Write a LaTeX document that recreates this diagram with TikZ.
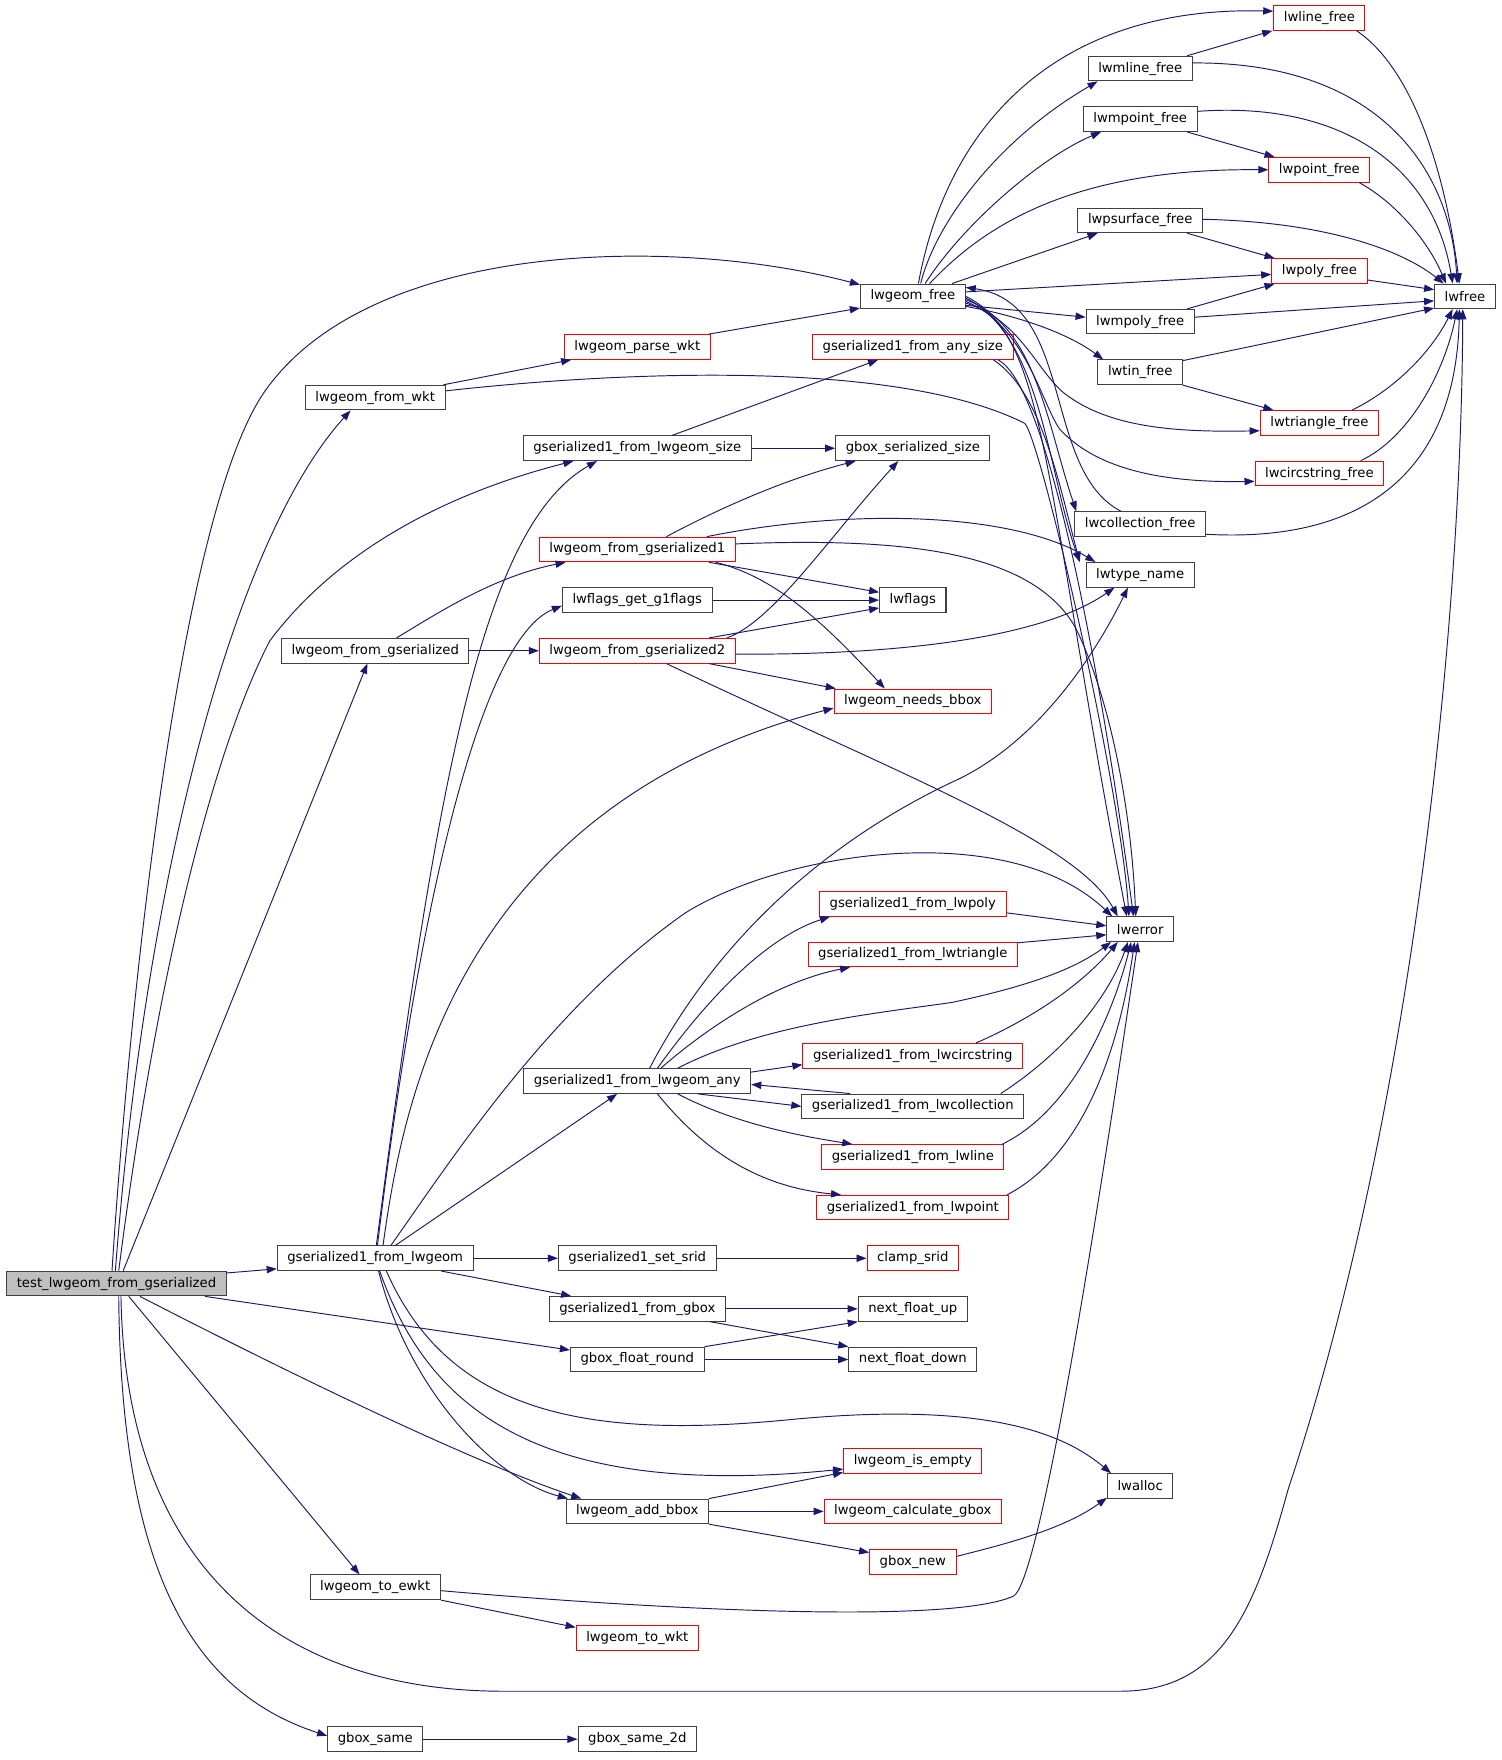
\documentclass[tikz,border=0pt]{standalone}
\usepackage{fontspec}
\setmainfont{DejaVu Sans}
\usetikzlibrary{arrows.meta}
\definecolor{edgeblue}{HTML}{191970}
\definecolor{boxgray}{HTML}{404040}
\definecolor{rootgray}{HTML}{BFBFBF}

\begin{document}
\begin{tikzpicture}[x=1pt, y=-1pt,
  fn/.style={draw=boxgray, line width=0.9pt, rectangle, inner xsep=9pt, inner ysep=0pt,
    minimum height=22pt, font=\fontsize{11.8}{14}\selectfont},
  fnred/.style={fn, draw=red},
  fnroot/.style={fn, fill=rootgray},
  call/.style={draw=edgeblue, line width=0.85pt, -{Triangle[length=9pt,width=6.5pt]}}]

\fill[white] (0,0) rectangle (1340.2,1571.4);

% callers on the left
\node[fnroot] (test) at (104,1146) {test\_lwgeom\_from\_gserialized};
\node[fn] (from_wkt) at (335,355) {lwgeom\_from\_wkt};
\node[fn] (from_gser) at (335,581) {lwgeom\_from\_gserialized};
\node[fn] (gs_lwgeom) at (335,1123.4) {gserialized1\_from\_lwgeom};
\node[fn] (to_ewkt) at (335,1417.2) {lwgeom\_to\_ewkt};
\node[fn] (gbsame) at (335,1552.8) {gbox\_same};

% second column
\node[fnred] (parsewkt) at (569,309.8) {lwgeom\_parse\_wkt};
\node[fn] (gs_size) at (569,400.2) {gserialized1\_from\_lwgeom\_size};
\node[fnred] (gser1) at (569,490.6) {lwgeom\_from\_gserialized1};
\node[fn] (g1flags) at (569,535.8) {lwflags\_get\_g1flags};
\node[fnred] (gser2) at (569,581) {lwgeom\_from\_gserialized2};
\node[fn] (gs_any) at (569,965.2) {gserialized1\_from\_lwgeom\_any};
\node[fn] (setsrid) at (569,1123.4) {gserialized1\_set\_srid};
\node[fn] (gs_gbox) at (569,1168.6) {gserialized1\_from\_gbox};
\node[fn] (gbround) at (569,1213.8) {gbox\_float\_round};
\node[fn] (addbbox) at (569,1349.4) {lwgeom\_add\_bbox};
\node[fnred] (towkt) at (569,1462.4) {lwgeom\_to\_wkt};
\node[fn] (gbsame2d) at (569,1552.8) {gbox\_same\_2d};

% third column
\node[fn] (geomfree) at (815,264.6) {lwgeom\_free};
\node[fnred] (anysize) at (815,309.8) {gserialized1\_from\_any\_size};
\node[fn] (gbsize) at (815,400.2) {gbox\_serialized\_size};
\node[fn] (lwflags) at (815,535.8) {lwflags};
\node[fnred] (needsbbox) at (815,626.2) {lwgeom\_needs\_bbox};
\node[fnred] (gs_poly) at (815,807) {gserialized1\_from\_lwpoly};
\node[fnred] (gs_tri) at (815,852.2) {gserialized1\_from\_lwtriangle};
\node[fnred] (gs_circ) at (815,942.6) {gserialized1\_from\_lwcircstring};
\node[fn] (gs_coll) at (815,987.8) {gserialized1\_from\_lwcollection};
\node[fnred] (gs_line) at (815,1033) {gserialized1\_from\_lwline};
\node[fnred] (gs_point) at (815,1078.2) {gserialized1\_from\_lwpoint};
\node[fnred] (clampsrid) at (815,1123.4) {clamp\_srid};
\node[fn] (nfup) at (815,1168.6) {next\_float\_up};
\node[fn] (nfdown) at (815,1213.8) {next\_float\_down};
\node[fnred] (isempty) at (815,1304.2) {lwgeom\_is\_empty};
\node[fnred] (calcgbox) at (815,1349.4) {lwgeom\_calculate\_gbox};
\node[fnred] (gboxnew) at (815,1394.6) {gbox\_new};

% fourth column
\node[fn] (mlinefree) at (1018,61.2) {lwmline\_free};
\node[fn] (mpointfree) at (1018,106.4) {lwmpoint\_free};
\node[fn] (psurffree) at (1018,196.8) {lwpsurface\_free};
\node[fn] (mpolyfree) at (1018,287.2) {lwmpoly\_free};
\node[fn] (tinfree) at (1018,332.4) {lwtin\_free};
\node[fn] (collfree) at (1018,468) {lwcollection\_free};
\node[fn] (typename) at (1018,513.2) {lwtype\_name};
\node[fn] (lwerror) at (1018,829.6) {lwerror};
\node[fn] (lwalloc) at (1018,1326.8) {lwalloc};

% fifth and sixth column
\node[fnred] (linefree) at (1178,16) {lwline\_free};
\node[fnred] (pointfree) at (1178,151.6) {lwpoint\_free};
\node[fnred] (polyfree) at (1178,242) {lwpoly\_free};
\node[fnred] (trifree) at (1178,377.6) {lwtriangle\_free};
\node[fnred] (circfree) at (1178,422.8) {lwcircstring\_free};
\node[fn] (lwfree) at (1308,264.6) {lwfree};

% calls from the test
\draw[call] ([yshift=-2pt]test.north east) -- ([yshift=2pt]gs_lwgeom.south west);
\draw[call] ([xshift=-1pt]test.north) .. controls (130,780) and (210,480) .. ([xshift=-22pt]from_wkt.south);
\draw[call] ([xshift=-4pt]test.north) .. controls (115,900) and (160,460) .. (236,350)
  .. controls (330,215) and (600,210) .. ([yshift=-1pt]geomfree.north west);
\draw[call] ([xshift=2pt]test.north) .. controls (145,830) and (200,650) .. (241,572)
  .. controls (310,480) and (420,435) .. ([xshift=-57pt]gs_size.south);
\draw[call] ([xshift=6pt]test.north) -- ([xshift=-7pt]from_gser.south);
\draw[call] ([xshift=11pt]test.south) -- ([xshift=-14pt]to_ewkt.north);
\draw[call] ([xshift=21pt]test.south) .. controls (250,1222) and (420,1305) .. ([xshift=-50pt]addbbox.north);
\draw[call] ([xshift=79pt]test.south) -- ([yshift=-3pt]gbround.north west);
\draw[call] ([xshift=2pt]test.south) .. controls (108,1400) and (170,1510) .. ([yshift=3pt]gbsame.west);
\draw[call] ([xshift=4pt]test.south) .. controls (112,1400) and (250,1510) .. (450,1510) -- (1000,1510)
  .. controls (1090,1510) and (1120,1440) .. (1150,1330)
  .. controls (1260,1000) and (1305,560) .. ([xshift=-2pt]lwfree.south);

% gserialized1_from_lwgeom
\draw[call] (gs_lwgeom.east) -- (setsrid.west);
\draw[call] ([xshift=59pt]gs_lwgeom.south) -- ([xshift=-59pt]gs_gbox.north);
\draw[call] ([xshift=18pt]gs_lwgeom.north) -- ([xshift=-18pt]gs_any.south);
\draw[call] ([xshift=1pt]gs_lwgeom.north) .. controls (390,700) and (430,470) .. ([xshift=-36pt]gs_size.south);
\draw[call] ([xshift=2pt]gs_lwgeom.north) .. controls (375,800) and (430,570) .. ([yshift=-5pt]g1flags.west);
\draw[call] ([xshift=7pt]gs_lwgeom.north) .. controls (360,980) and (410,720) .. ([yshift=-6pt]needsbbox.west);
\draw[call] ([xshift=14pt]gs_lwgeom.north) .. controls (400,1040) and (490,900) .. (612,815)
  .. controls (700,760) and (900,730) .. ([xshift=-25pt]lwerror.north);
\draw[call] ([xshift=4pt]gs_lwgeom.south) .. controls (380,1250) and (470,1340) .. ([yshift=4pt]isempty.south west);
\draw[call] ([xshift=10pt]gs_lwgeom.south) .. controls (400,1260) and (520,1285) .. (700,1268)
  .. controls (880,1250) and (950,1280) .. ([xshift=-26pt]lwalloc.north);
\draw[call] ([xshift=3pt]gs_lwgeom.south) .. controls (365,1240) and (440,1320) .. ([xshift=-62pt]addbbox.north);

% lwgeom_from_wkt and lwgeom_from_gserialized
\draw[call] ([xshift=-2pt]from_wkt.north east) -- ([xshift=-59pt]parsewkt.south);
\draw[call] ([yshift=6pt]from_wkt.east) .. controls (550,332) and (800,320) .. (915,378)
  .. controls (930,395) and (1000,700) .. ([xshift=-10pt]lwerror.north);
\draw[call] ([xshift=19pt]from_gser.north) .. controls (390,548) and (440,515) .. ([xshift=-64pt]gser1.south);
\draw[call] (from_gser.east) -- (gser2.west);
\draw[call] ([xshift=-2pt]parsewkt.north east) -- ([yshift=1pt]geomfree.south west);

% sizes
\draw[call] ([xshift=31pt]gs_size.north) -- ([xshift=-31pt]anysize.south);
\draw[call] (gs_size.east) -- (gbsize.west);
\draw[call] ([xshift=-18pt]anysize.south east) .. controls (930,350) and (945,430) .. ([xshift=-54pt]typename.north);
\draw[call] ([xshift=-14pt]anysize.south east) .. controls (940,345) and (990,650) .. ([xshift=-6pt]lwerror.north);

% lwgeom_from_gserialized1
\draw[call] ([xshift=26pt]gser1.north) .. controls (640,455) and (700,428) .. ([xshift=-51pt]gbsize.south);
\draw[call] ([xshift=62pt]gser1.north) .. controls (750,455) and (900,455) .. ([xshift=-40pt]typename.north);
\draw[call] ([yshift=5pt]gser1.east) .. controls (800,480) and (920,490) .. (960,560)
  .. controls (990,620) and (1010,720) .. ([xshift=-4pt]lwerror.north);
\draw[call] ([xshift=64pt]gser1.south) -- ([yshift=7pt]lwflags.west);
\draw[call] ([xshift=70pt]gser1.south) .. controls (690,515) and (730,550) .. ([xshift=-25pt]needsbbox.north);
\draw[call] (g1flags.east) -- (lwflags.west);

% lwgeom_from_gserialized2
\draw[call] ([xshift=80pt]gser2.north) .. controls (690,555) and (740,480) .. ([xshift=-13pt]gbsize.south);
\draw[call] ([xshift=64pt]gser2.north) -- ([yshift=-7pt]lwflags.west);
\draw[call] ([yshift=-3pt]gser2.east) .. controls (800,585) and (930,570) .. ([xshift=-23pt]typename.south);
\draw[call] ([xshift=64pt]gser2.south) -- ([xshift=2pt]needsbbox.north west);
\draw[call] ([xshift=26pt]gser2.south) .. controls (800,690) and (960,750) .. ([xshift=-20pt]lwerror.north);

% lwgeom_free
\draw[call] ([xshift=5pt]geomfree.north) .. controls (845,115) and (940,5) .. ([yshift=6pt]linefree.west);
\draw[call] ([xshift=7pt]geomfree.north) .. controls (835,200) and (890,125) .. ([xshift=-38pt]mlinefree.south);
\draw[call] ([xshift=11pt]geomfree.north) .. controls (860,200) and (930,140) .. ([xshift=-35pt]mpointfree.south);
\draw[call] ([xshift=15pt]geomfree.north) .. controls (880,200) and (960,150) .. (pointfree.west);
\draw[call] ([xshift=35pt]geomfree.north) -- ([xshift=-38pt]psurffree.south);
\draw[call] ([yshift=4pt]geomfree.east) -- ([yshift=-3pt]polyfree.west);
\draw[call] ([yshift=-8pt]geomfree.east) -- ([yshift=4pt]mpolyfree.west);
\draw[call] ([yshift=-9pt]geomfree.east) .. controls (900,280) and (950,295) .. ([xshift=-33pt]tinfree.north);
\draw[call] ([yshift=-6pt]geomfree.east) .. controls (910,285) and (925,330) .. (950,351)
  .. controls (990,382) and (1050,386) .. ([yshift=-7pt]trifree.west);
\draw[call] ([yshift=-4.5pt]geomfree.east) .. controls (915,290) and (930,360) .. (946,383)
  .. controls (980,420) and (1040,431) .. ([yshift=-7pt]circfree.west);
\draw[call] ([yshift=-3pt]geomfree.east) .. controls (925,290) and (935,380) .. ([xshift=-57pt]collfree.north);
\draw[call] ([yshift=-1.5pt]geomfree.east) .. controls (930,300) and (935,420) .. ([xshift=-54pt]typename.north);
\draw[call] (geomfree.east) .. controls (935,300) and (930,420) .. ([xshift=-12pt]lwerror.north);

% lwcollection_free
\draw[call] ([xshift=-17pt]collfree.north) .. controls (930,420) and (960,270) .. ([yshift=-3.5pt]geomfree.north east);
\draw[call] ([yshift=-9pt]collfree.east) .. controls (1220,485) and (1300,420) .. ([xshift=-5pt]lwfree.south);

% the other free functions
\draw[call] ([xshift=42pt]mlinefree.north) -- ([xshift=-42pt]linefree.south);
\draw[call] ([yshift=5pt]mlinefree.east) .. controls (1230,55) and (1295,150) .. ([xshift=-7pt]lwfree.north);
\draw[call] ([xshift=42pt]mpointfree.south) -- ([xshift=-40pt]pointfree.north);
\draw[call] ([yshift=7pt]mpointfree.east) .. controls (1200,90) and (1280,150) .. ([xshift=-11pt]lwfree.north);
\draw[call] ([xshift=-10pt]pointfree.south east) .. controls (1245,180) and (1275,215) .. ([xshift=-17pt]lwfree.north);
\draw[call] ([xshift=-8pt]linefree.south east) .. controls (1260,60) and (1290,150) .. ([xshift=-5pt]lwfree.north);
\draw[call] ([xshift=42pt]psurffree.south) -- ([xshift=-40pt]polyfree.north);
\draw[call] ([yshift=1pt]psurffree.east) .. controls (1180,198) and (1250,222) .. ([xshift=-19pt]lwfree.north);
\draw[call] ([yshift=-8pt]polyfree.east) -- ([yshift=6pt]lwfree.west);
\draw[call] ([xshift=42pt]mpolyfree.north) -- ([xshift=-40pt]polyfree.south);
\draw[call] ([yshift=4pt]mpolyfree.east) -- ([yshift=-4pt]lwfree.west);
\draw[call] ([yshift=-1pt]tinfree.north east) -- ([yshift=1pt]lwfree.south west);
\draw[call] ([xshift=38pt]tinfree.south) -- ([xshift=-41pt]trifree.north);
\draw[call] ([xshift=-24pt]trifree.north east) .. controls (1250,345) and (1280,310) .. ([xshift=-11pt]lwfree.south);
\draw[call] ([xshift=-21pt]circfree.north east) .. controls (1260,390) and (1290,330) .. ([xshift=-7pt]lwfree.south);

% gserialized1_from_lwgeom_any
\draw[call] ([xshift=11pt]gs_any.north) .. controls (650,820) and (760,740) .. (855,696)
  .. controls (930,660) and (980,580) .. ([xshift=-11pt]typename.south);
\draw[call] ([xshift=18pt]gs_any.north) .. controls (640,880) and (690,835) .. ([xshift=-74pt]gs_poly.south);
\draw[call] ([xshift=21pt]gs_any.north) .. controls (640,910) and (700,875) .. ([xshift=-56pt]gs_tri.south);
\draw[call] ([xshift=36pt]gs_any.north) .. controls (680,915) and (780,905) .. (850,895)
  .. controls (920,880) and (960,865) .. ([xshift=-26pt]lwerror.south);
\draw[call] ([yshift=8pt]gs_any.east) -- ([yshift=-8pt]gs_circ.west);
\draw[call] ([xshift=-56pt]gs_coll.north) -- ([yshift=-3pt]gs_any.east);
\draw[call] ([xshift=54pt]gs_any.south) -- (gs_coll.west);
\draw[call] ([xshift=36pt]gs_any.south) .. controls (650,1000) and (700,1012) .. ([xshift=-54pt]gs_line.north);
\draw[call] ([xshift=18pt]gs_any.south) .. controls (630,1030) and (680,1060) .. ([xshift=-64pt]gs_point.north);

% into lwerror
\draw[call] ([yshift=-8pt]gs_poly.east) -- ([yshift=3pt]lwerror.west);
\draw[call] ([yshift=-1pt]gs_tri.north east) -- ([yshift=-5pt]lwerror.west);
\draw[call] ([xshift=-42pt]gs_circ.north east) .. controls (920,910) and (965,880) .. ([xshift=-20pt]lwerror.south);
\draw[call] ([xshift=-21pt]gs_coll.north east) .. controls (950,940) and (990,890) .. ([xshift=-11pt]lwerror.south);
\draw[call] ([xshift=-2pt]gs_line.north east) .. controls (960,990) and (995,900) .. ([xshift=-8pt]lwerror.south);
\draw[call] ([xshift=-2pt]gs_point.north east) .. controls (970,1030) and (1000,930) .. ([xshift=-5pt]lwerror.south);
\draw[call] ([yshift=-3pt]to_ewkt.east) .. controls (600,1438) and (850,1450) .. (905,1425)
  .. controls (930,1410) and (985,1050) .. ([xshift=-2pt]lwerror.south);

% lower part
\draw[call] (setsrid.east) -- (clampsrid.west);
\draw[call] (gs_gbox.east) -- (nfup.west);
\draw[call] ([xshift=65pt]gs_gbox.south) -- (nfdown.north west);
\draw[call] (gbround.north east) -- (nfup.south west);
\draw[call] (gbround.east) -- (nfdown.west);
\draw[call] (addbbox.north east) -- ([yshift=1pt]isempty.south west);
\draw[call] (addbbox.east) -- (calcgbox.west);
\draw[call] (addbbox.south east) -- ([yshift=-3pt]gboxnew.north west);
\draw[call] ([yshift=5pt]gboxnew.east) .. controls (900,1378) and (950,1365) .. ([yshift=1pt]lwalloc.south west);
\draw[call] (to_ewkt.south east) -- ([yshift=-2pt]towkt.north west);
\draw[call] (gbsame.east) -- (gbsame2d.west);

\end{tikzpicture}
\end{document}
